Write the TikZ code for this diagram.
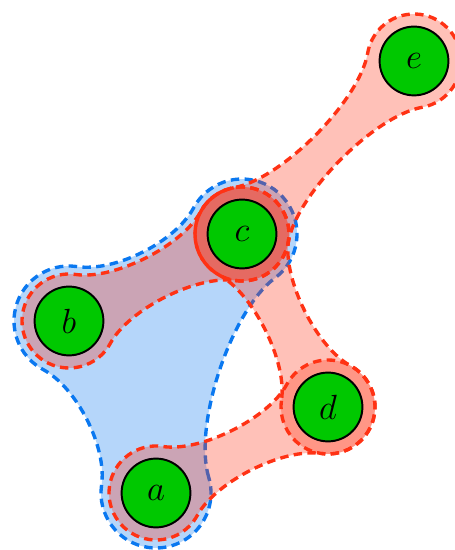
\documentclass[tikz,border=0pt]{standalone}
\usetikzlibrary{calc}
\definecolor{hred}{HTML}{FF3214}
\definecolor{hblue}{HTML}{0A78F0}
\definecolor{vgreen}{HTML}{00C800}
\tikzset{
  vertex/.style={
    circle, draw=black, fill=vgreen, line width=1.4pt,
    minimum size=1.72cm, inner sep=0pt,
    font=\fontsize{28}{34}\selectfont
  },
  redhull/.style={
    fill=hred, fill opacity=0.3, draw=hred,
    dash pattern=on 6pt off 3.8pt, line width=2.4pt
  },
  bluehull/.style={
    fill=hblue, fill opacity=0.3, draw=hblue,
    dash pattern=on 6pt off 3.8pt, line width=2.4pt
  }
}

% hull round two vertices, starting on the arc of #2:
% #1,#2 vertices, #3 radius, #4 waist angle, #5 style
\newcommand{\pairhull}[5]{%
  \path[#5] let \p1 = ($(#2)-(#1)$), \n1 = {atan2(\y1,\x1)},
      \n2 = {0.2*veclen(\x1,\y1)} in
    ($(#2)+(\n1+180+#4:#3)$)
    arc[start angle=\n1+180+#4, delta angle=360-2*#4, radius=#3]
      .. controls ($(#2)+(\n1+180-#4:#3)+(\n1+270-#4:\n2)$)
              and ($(#1)+(\n1+#4:#3)+(\n1+#4-90:\n2)$)
      .. ($(#1)+(\n1+#4:#3)$)
    arc[start angle=\n1+#4, delta angle=360-2*#4, radius=#3]
      .. controls ($(#1)+(\n1-#4:#3)+(\n1-#4+90:\n2)$)
              and ($(#2)+(\n1+180+#4:#3)+(\n1+90+#4:\n2)$)
      .. ($(#2)+(\n1+180+#4:#3)$) -- cycle;
}

% hull round three vertices given counter-clockwise
\newcommand{\trihull}[6]{%
  \path[#6] let \p1 = ($(#2)-(#1)$), \p2 = ($(#3)-(#2)$), \p3 = ($(#1)-(#3)$),
      \n1 = {atan2(\y1,\x1)}, \n2 = {atan2(\y2,\x2)}, \n3 = {atan2(\y3,\x3)},
      \n4 = {mod(\n2-\n1-180-2*#5+720,360)},
      \n5 = {mod(\n3-\n2-180-2*#5+720,360)},
      \n6 = {mod(\n1-\n3-180-2*#5+720,360)},
      \n7 = {0.2*veclen(\x1,\y1)}, \n8 = {0.2*veclen(\x2,\y2)},
      \n9 = {0.2*veclen(\x3,\y3)} in
    ($(#1)+(\n1-#5:#4)$)
      .. controls ($(#1)+(\n1-#5:#4)+(\n1-#5+90:\n7)$)
              and ($(#2)+(\n1+180+#5:#4)+(\n1+90+#5:\n7)$)
      .. ($(#2)+(\n1+180+#5:#4)$)
    arc[start angle=\n1+180+#5, delta angle=\n4, radius=#4]
      .. controls ($(#2)+(\n2-#5:#4)+(\n2-#5+90:\n8)$)
              and ($(#3)+(\n2+180+#5:#4)+(\n2+90+#5:\n8)$)
      .. ($(#3)+(\n2+180+#5:#4)$)
    arc[start angle=\n2+180+#5, delta angle=\n5, radius=#4]
      .. controls ($(#3)+(\n3-#5:#4)+(\n3-#5+90:\n9)$)
              and ($(#1)+(\n3+180+#5:#4)+(\n3+90+#5:\n9)$)
      .. ($(#1)+(\n3+180+#5:#4)$)
    arc[start angle=\n3+180+#5, delta angle=\n6, radius=#4] -- cycle;
}

\begin{document}
\begin{tikzpicture}
  \useasboundingbox (0,0) rectangle (11.35,13.75);

  % vertex positions
  \coordinate (a) at (3.9,1.425);
  \coordinate (b) at (1.725,5.725);
  \coordinate (c) at (6.05,7.9);
  \coordinate (d) at (8.2,3.575);
  \coordinate (e) at (10.35,12.225);

  % hyperedges (dash phases line up the dashes on shared arcs)
  \trihull{a}{c}{b}{1.375}{55}{bluehull}
  \pairhull{b}{c}{1.175}{55}{redhull}
  \pairhull{e}{c}{1.175}{55}{redhull, dash phase=3.87pt}
  \pairhull{c}{d}{1.175}{55}{redhull, dash phase=9.25pt}
  \pairhull{a}{d}{1.175}{55}{redhull, dash phase=2.97pt}

  \foreach \v in {a,b,c,d,e}
    \node[vertex] (v\v) at (\v) {$\v$};
\end{tikzpicture}
\end{document}
